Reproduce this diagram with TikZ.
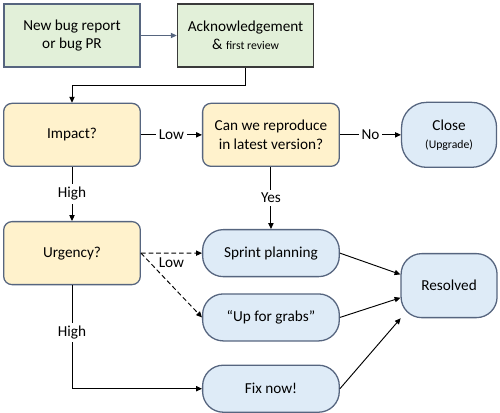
\documentclass[tikz,border=0pt]{standalone}
\usepackage{fontspec}
\setmainfont{Carlito}
\usepackage{xcolor}
\usepackage{tikz}
\usetikzlibrary{arrows.meta, positioning}
\definecolor{bugGreen}{HTML}{E2F0D9}
\definecolor{bugYellow}{HTML}{FFF2CC}
\definecolor{bugBlue}{HTML}{DEEBF7}
\definecolor{bugSlate}{HTML}{56657F}
\definecolor{bugDark}{HTML}{3A3A3A}

\begin{document}
\begin{tikzpicture}[
    node distance=1.05cm and 1.83cm,
    box/.style={rectangle, draw=#1, line width=1.2pt, fill=bugGreen, minimum width=4.08cm, minimum height=1.89cm, align=center, font=\fontsize{13}{15.5}\selectfont},
    decision/.style={rectangle, rounded corners=0.25cm, draw=bugSlate, line width=1.1pt, fill=bugYellow, minimum width=4.1cm, minimum height=1.89cm, align=center, font=\fontsize{13}{15.5}\selectfont},
    outcome/.style={rectangle, rounded corners=0.62cm, draw=bugSlate, line width=1.1pt, fill=bugBlue, minimum width=#1, minimum height=1.41cm, align=center, font=\fontsize{13}{15.5}\selectfont},
    outcome/.default=4.1cm,
    arrow/.style={-{Triangle[length=5pt, width=4.5pt]}, line width=0.8pt, #1},
    arrow/.default=black,
    lbl/.style={font=\fontsize{13}{15.5}\selectfont, fill=white, inner sep=2.5pt}
]
\useasboundingbox (0,0) rectangle (15,-12.39);

% Intake
\node[box=bugSlate] (report) at (2.16,-1.065) {New bug report\\or bug PR};
\node[box=bugDark, line width=1.5pt, right=1.08cm of report] (ack) {Acknowledgement\\\& {\fontsize{10}{12}\selectfont first review}};

% Triage
\node[decision, below=1.05cm of report] (impact) {Impact?};
\node[decision, right=1.83cm of impact] (repro) {Can we reproduce\\in latest version?};
\node[outcome=2.85cm, minimum height=1.95cm, rounded corners=0.75cm, right=1.83cm of repro] (close) {Close\\{\fontsize{10}{12}\selectfont (Upgrade)}};
\node[decision, below=1.62cm of impact] (urgency) {Urgency?};

% Outcomes
\node[outcome, below=1.86cm of repro] (sprint) {Sprint planning};
\node[outcome, below=0.48cm of sprint] (grabs) {“Up for grabs”};
\node[outcome, below=0.69cm of grabs] (fixnow) {Fix now!};
\node[outcome=2.88cm, minimum height=1.92cm, below=2.55cm of close] (resolved) {Resolved};

% Arrows
\draw[arrow=bugSlate] (report) -- (ack);
\draw[arrow] (ack.south) -- ++(0,-0.54) -| (impact.north);
\draw[arrow] (impact) -- node[lbl] {Low} (repro);
\draw[arrow] (repro) -- node[lbl] {No} (close);
\draw[arrow] (impact) -- node[lbl] {High} (urgency);
\draw[arrow] (repro) -- node[lbl] {Yes} (sprint);
\draw[arrow, dash pattern=on 4pt off 2.5pt] (urgency.east) -- node[below, font=\fontsize{13}{15.5}\selectfont] {Low} (sprint.west);
\draw[arrow, dash pattern=on 4pt off 2.5pt] (urgency.east) -- (grabs.west);
\draw[arrow] (urgency) |- node[lbl, pos=0.23] {High} (fixnow);

% Into resolved
\draw[arrow] (sprint.east) -- (resolved.167);
\draw[arrow] (grabs.east) -- (resolved.194);
\draw[arrow] (fixnow.east) -- (resolved.214);

\end{tikzpicture}
\end{document}
